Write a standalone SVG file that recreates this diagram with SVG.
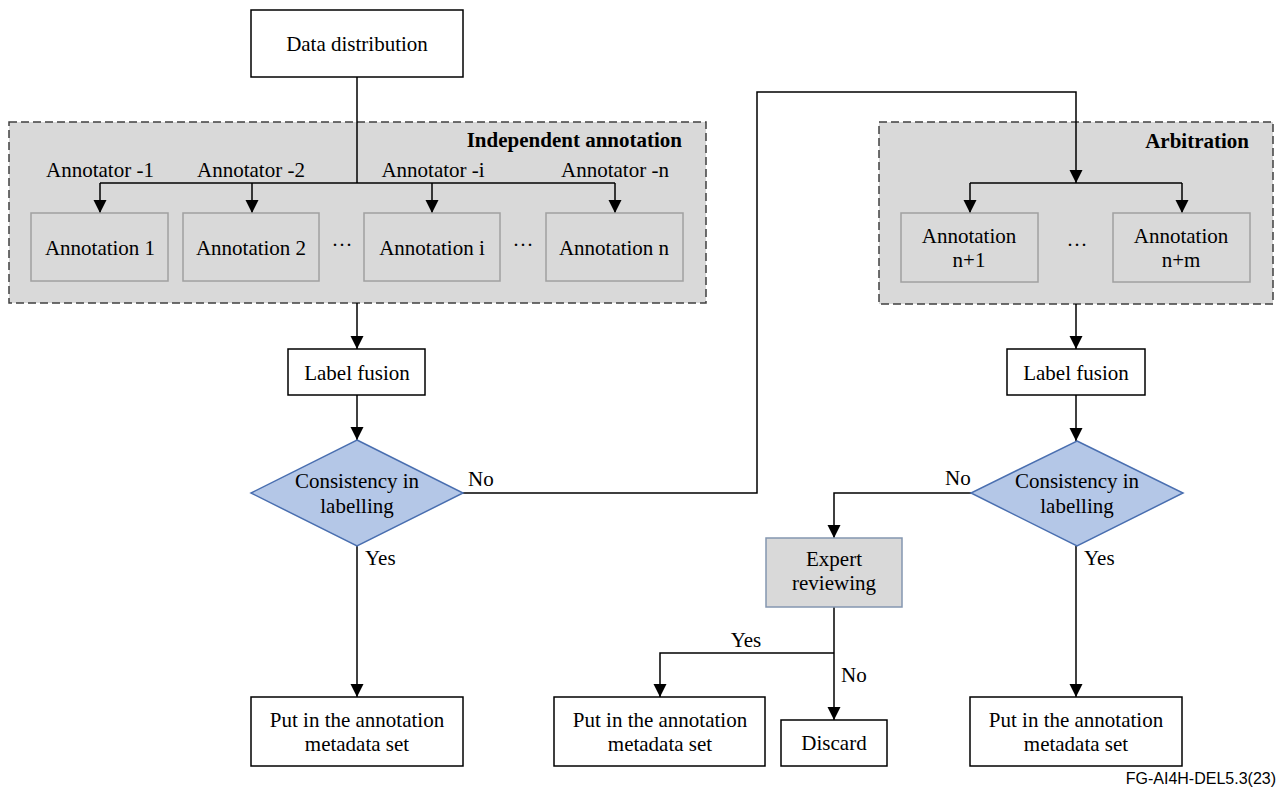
<svg xmlns="http://www.w3.org/2000/svg" width="1281" height="791" viewBox="0 0 1281 791">
<style>
text{font-family:"Liberation Serif","Times New Roman",serif;font-size:21px;fill:#000}
.c{text-anchor:middle}
.b{font-weight:bold;text-anchor:end}
.box{fill:#fff;stroke:#000;stroke-width:1.5}
.grp{fill:#d9d9d9;stroke:#404040;stroke-width:1.5;stroke-dasharray:8 4}
.inner{fill:#d9d9d9;stroke:#a0a0a0;stroke-width:1.5}
.dia{fill:#b4c7e7;stroke:#4a6fb0;stroke-width:1.5}
.exp{fill:#d9d9d9;stroke:#8496b0;stroke-width:1.5}
.ln{fill:none;stroke:#000;stroke-width:1.5}
.ar{marker-end:url(#arr)}
.ft{font-family:"Liberation Sans",Arial,sans-serif;font-size:16px;text-anchor:end}
</style>
<defs>
<marker id="arr" markerUnits="userSpaceOnUse" markerWidth="14" markerHeight="14" refX="13" refY="7" orient="auto">
<path d="M0,0.5 L13,7 L0,13.5 z" fill="#000"/>
</marker>
</defs>

<g id="group-independent">
<rect class="grp" x="9" y="122" width="697" height="181"/>
<text class="b" x="682" y="147">Independent annotation</text>
</g>
<g id="group-arbitration">
<rect class="grp" x="879" y="122" width="394" height="182"/>
<text class="b" x="1249" y="148">Arbitration</text>
</g>

<g id="connectors">
<path class="ln" d="M357,77 V183"/>
<path class="ln" d="M100,183 H615"/>
<path class="ln ar" d="M100,183 V213"/>
<path class="ln ar" d="M252,183 V213"/>
<path class="ln ar" d="M432,183 V213"/>
<path class="ln ar" d="M615,183 V213"/>
<path class="ln ar" d="M357,303 V349"/>
<path class="ln ar" d="M357,395 V440"/>
<path class="ln ar" d="M357,546 V697"/>
<path class="ln ar" d="M463,493 H757 V92 H1076 V183"/>
<path class="ln" d="M970,183 H1182"/>
<path class="ln ar" d="M970,183 V213"/>
<path class="ln ar" d="M1182,183 V213"/>
<path class="ln ar" d="M1076,304 V349"/>
<path class="ln ar" d="M1076,395 V441"/>
<path class="ln ar" d="M1076,546 V697"/>
<path class="ln ar" d="M971,493 H834 V538"/>
<path class="ln" d="M834,607 V653"/>
<path class="ln ar" d="M834,653 H660 V697"/>
<path class="ln ar" d="M834,653 V720"/>
<text x="100" y="177" class="c">Annotator -1</text>
<text x="251" y="177" class="c">Annotator -2</text>
<text x="433" y="177" class="c">Annotator -i</text>
<text x="615" y="177" class="c">Annotator -n</text>
<text x="468" y="486">No</text>
<text x="365" y="565">Yes</text>
<text x="945" y="485">No</text>
<text x="1084" y="565">Yes</text>
<text x="746" y="647" class="c">Yes</text>
<text x="841" y="682">No</text>
</g>

<g id="data-distribution">
<rect class="box" x="251" y="10" width="212" height="67"/>
<text class="c" x="357" y="51">Data distribution</text>
</g>

<g id="annotation-1"><rect class="inner" x="31" y="213" width="137" height="68"/><text class="c" x="100" y="255">Annotation 1</text></g>
<g id="annotation-2"><rect class="inner" x="183" y="213" width="136" height="68"/><text class="c" x="251" y="255">Annotation 2</text></g>
<g id="dots-1"><text class="c" x="342" y="252">···</text></g>
<g id="annotation-i"><rect class="inner" x="364" y="213" width="136" height="68"/><text class="c" x="432" y="255">Annotation i</text></g>
<g id="dots-2"><text class="c" x="523" y="252">···</text></g>
<g id="annotation-n"><rect class="inner" x="546" y="213" width="137" height="68"/><text class="c" x="614" y="255">Annotation n</text></g>

<g id="annotation-n1"><rect class="inner" x="901" y="213" width="137" height="69"/><text class="c" x="969" y="243">Annotation</text><text class="c" x="969" y="267">n+1</text></g>
<g id="dots-3"><text class="c" x="1077" y="252">···</text></g>
<g id="annotation-nm"><rect class="inner" x="1113" y="213" width="137" height="69"/><text class="c" x="1181" y="243">Annotation</text><text class="c" x="1181" y="267">n+m</text></g>

<g id="label-fusion-1"><rect class="box" x="288" y="349" width="137" height="46"/><text class="c" x="357" y="380">Label fusion</text></g>
<g id="label-fusion-2"><rect class="box" x="1007" y="349" width="138" height="46"/><text class="c" x="1076" y="380">Label fusion</text></g>

<g id="consistency-1"><polygon class="dia" points="357,440 463,493 357,546 251,493"/><text class="c" x="357" y="488">Consistency in</text><text class="c" x="357" y="513">labelling</text></g>
<g id="consistency-2"><polygon class="dia" points="1077,441 1183,493 1077,546 971,493"/><text class="c" x="1077" y="488">Consistency in</text><text class="c" x="1077" y="513">labelling</text></g>

<g id="expert-reviewing"><rect class="exp" x="766" y="538" width="136" height="69"/><text class="c" x="834" y="566">Expert</text><text class="c" x="834" y="590">reviewing</text></g>

<g id="put-in-1"><rect class="box" x="251" y="697" width="212" height="69"/><text class="c" x="357" y="727">Put in the annotation</text><text class="c" x="357" y="751">metadata set</text></g>
<g id="put-in-2"><rect class="box" x="554" y="697" width="211" height="69"/><text class="c" x="660" y="727">Put in the annotation</text><text class="c" x="660" y="751">metadata set</text></g>
<g id="discard"><rect class="box" x="781" y="720" width="106" height="46"/><text class="c" x="834" y="750">Discard</text></g>
<g id="put-in-3"><rect class="box" x="970" y="697" width="212" height="69"/><text class="c" x="1076" y="727">Put in the annotation</text><text class="c" x="1076" y="751">metadata set</text></g>

<text class="ft" x="1276" y="784">FG-AI4H-DEL5.3(23)</text>
</svg>
